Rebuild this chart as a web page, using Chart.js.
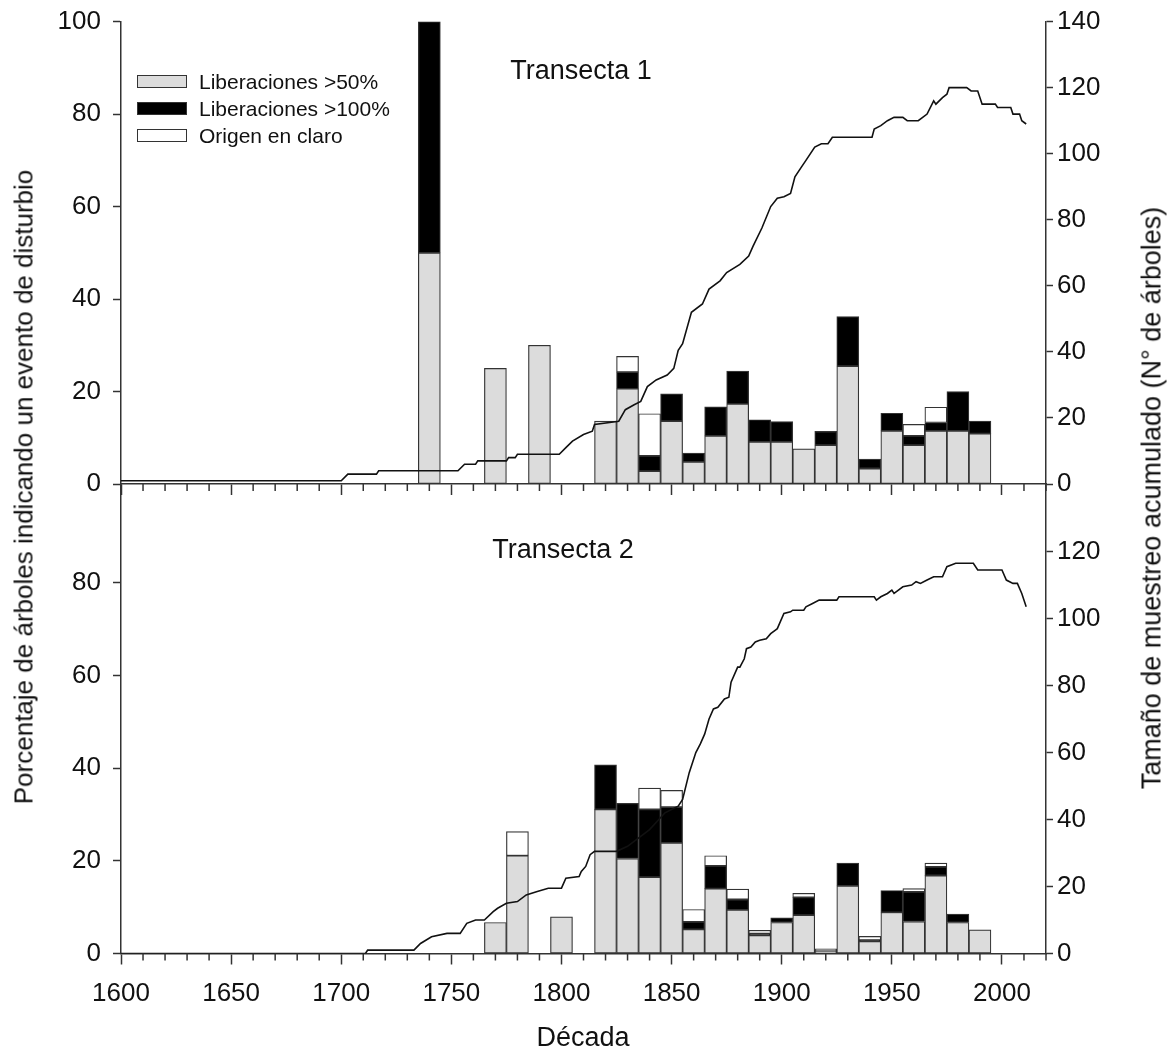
<!DOCTYPE html>
<html lang="es">
<head>
<meta charset="utf-8">
<title>Transectas</title>
<script src="https://cdn.jsdelivr.net/npm/chart.js@4.4.1/dist/chart.umd.min.js"></script>
<style>
  body { margin: 0; background: #fff; font-family: "Liberation Sans", Arial, sans-serif; color: #111; }
  #wrap { position: relative; width: 1175px; height: 1052px; overflow: hidden; }
  canvas { position: absolute; left: 0; }
  .txt { position: absolute; white-space: nowrap; transform: translate(-50%, -50%); }
  .rot { transform: translate(-50%, -50%) rotate(-90deg); }
  #leyenda { position: absolute; left: 137px; top: 68px; }
  .fila { display: flex; align-items: center; height: 27px; font-size: 21px; }
  .caja { width: 48px; height: 11px; border: 1.3px solid #333; margin-right: 12px; }
</style>
</head>
<body>
<div id="wrap">
  <!-- las etiquetas de los ejes y ocupan ~27.6px arriba y abajo del area de datos -->
  <canvas id="graf1" width="1175" height="518" style="top:-6px"></canvas>
  <canvas id="graf2" width="1175" height="595" style="top:457px"></canvas>
  <div class="txt" style="left:581px;top:70px;font-size:27px">Transecta 1</div>
  <div class="txt" style="left:563px;top:549px;font-size:27px">Transecta 2</div>
  <div class="txt rot" style="left:24px;top:487px;font-size:26px">Porcentaje de árboles indicando un evento de disturbio</div>
  <div class="txt rot" style="left:1152px;top:498px;font-size:27px">Tamaño de muestreo acumulado (N° de árboles)</div>
  <div class="txt" style="left:583px;top:1037px;font-size:27px">Década</div>
  <div id="leyenda"></div>
</div>
<script>
// etiquetas de la leyenda
const series = ['Liberaciones >50%', 'Liberaciones >100%', 'Origen en claro'];

// Transecta 1: porcentaje de árboles por década
const decadasT1 = [1740, 1770, 1790, 1820, 1830, 1840, 1850, 1860, 1870, 1880, 1890, 1900, 1910, 1920, 1930, 1940, 1950, 1960, 1970, 1980, 1990];
const lib50T1  = [50, 25, 30, 13.6, 20.6, 2.8, 13.6, 4.8, 10.4, 17.3, 9.1, 9.1, 7.6, 8.4, 25.5, 3.3, 11.5, 8.4, 11.5, 11.5, 10.9];
const lib100T1 = [50, 0, 0, 0, 3.6, 3.3, 5.9, 1.9, 6.3, 7.1, 4.8, 4.4, 0, 3.0, 10.7, 2.1, 3.8, 2.0, 1.8, 8.5, 2.7];
const claroT1  = [0, 0, 0, 0, 3.4, 9.1, 0, 0, 0, 0, 0, 0, 0, 0, 0, 0, 0, 2.5, 3.3, 0, 0];

// Transecta 2
const decadasT2 = [1770, 1780, 1800, 1820, 1830, 1840, 1850, 1860, 1870, 1880, 1890, 1900, 1910, 1920, 1930, 1940, 1950, 1960, 1970, 1980, 1990];
const lib50T2  = [6.7, 21.1, 7.9, 31.1, 20.5, 16.5, 23.9, 5.2, 14.0, 9.4, 3.9, 6.7, 8.3, 0.5, 14.6, 2.6, 8.9, 6.9, 16.8, 6.7, 5.1];
const lib100T2 = [0, 0, 0, 9.6, 11.9, 14.6, 7.7, 1.6, 4.9, 2.3, 0.4, 1.0, 3.8, 0, 4.9, 0.3, 4.7, 6.4, 1.9, 1.8, 0];
const claroT2  = [0, 5.2, 0, 0, 0, 4.6, 3.6, 2.7, 2.2, 2.2, 0.7, 0, 0.9, 0.5, 0, 0.8, 0, 0.7, 0.8, 0, 0];

// tamaño de muestreo acumulado (eje derecho)
const anosT1 = [1600, 1700, 1703, 1716, 1717, 1753, 1756, 1761, 1762, 1775, 1776, 1779, 1780, 1799, 1802, 1805, 1810, 1814, 1815, 1826, 1829, 1833, 1836, 1839, 1843, 1848, 1851, 1853, 1855, 1859, 1864, 1867, 1872, 1875, 1881, 1885, 1887, 1891, 1895, 1898, 1901, 1904, 1906, 1909, 1911, 1915, 1918, 1921, 1923, 1941, 1942, 1945, 1948, 1951, 1955, 1957, 1962, 1964, 1966, 1969, 1970, 1973, 1975, 1976, 1984, 1986, 1989, 1991, 1997, 1998, 2004, 2005, 2008, 2009, 2011];
const arbT1  = [1, 1, 3, 3, 4, 4, 6, 6, 7, 7, 8, 8, 9, 9, 11, 13, 15, 16, 18, 19, 22.5, 24, 25, 29.5, 31.5, 33, 35, 40.5, 42.5, 52, 54.5, 59, 61.5, 64, 66.5, 69, 72, 77.5, 84, 86.5, 87, 88, 93, 96, 98, 102, 103, 103, 105, 105, 107.5, 108.5, 110, 111, 111, 110, 110, 111, 112, 116, 115, 117, 118, 120, 120, 119, 119, 115, 115, 114, 114, 112, 112, 110, 109];

const anosT2 = [1600, 1711, 1712, 1733, 1736, 1741, 1748, 1754, 1757, 1761, 1765, 1769, 1771, 1775, 1780, 1784, 1789, 1794, 1800, 1802, 1808, 1809, 1811, 1813, 1815, 1825, 1830, 1840, 1847, 1853, 1855, 1858, 1861, 1863, 1865, 1867, 1869, 1871, 1874, 1876, 1877, 1880, 1881, 1883, 1884, 1886, 1888, 1890, 1893, 1895, 1897, 1898, 1901, 1904, 1905, 1910, 1911, 1914, 1917, 1925, 1926, 1942, 1943, 1945, 1948, 1950, 1951, 1953, 1955, 1959, 1961, 1963, 1966, 1969, 1973, 1975, 1979, 1987, 1989, 2000, 2002, 2005, 2007, 2009, 2011];
const arbT2  = [0, 0, 1, 1, 3, 5, 6, 6, 9, 10, 10, 12.5, 13.5, 15, 15.5, 17.5, 18.5, 19.5, 19.5, 22.5, 23, 24.5, 26, 29.5, 30.5, 30.5, 32, 37, 42, 44, 46, 54, 60, 62.5, 65.5, 70, 73, 73.5, 76, 76.5, 81, 85.5, 85.5, 88, 91, 91.5, 93, 93.5, 94, 95.5, 96.5, 97, 101.5, 102, 102.5, 102.5, 103.5, 104.5, 105.5, 105.5, 106.5, 106.5, 105.5, 106.5, 107.5, 108.5, 107.5, 108.5, 109.5, 110, 111, 110.5, 111.5, 112.5, 112.5, 115.5, 116.5, 116.5, 114.5, 114.5, 111.5, 110.5, 110.5, 107.5, 103.5];

// rangos de los ejes (el panel de abajo llega un poco mas arriba de 100)
const maxIzqT1 = 100, maxIzqT2 = 101.2, maxDer = 140;

const GRIS = '#dcdcdc', BORDE = '#333';
const colores = [GRIS, '#000', '#fff'];
const fuente = { family: '"Liberation Sans", Arial, sans-serif', size: 26 };

// leyenda en html
document.getElementById('leyenda').innerHTML = series.map((s, i) =>
  '<div class="fila"><span class="caja" style="background:' + colores[i] + '"></span>' + s + '</div>').join('');

// ticks menores del eje x (cada 10 años), mas cortos que los de 50
const ticksMenores = {
  id: 'ticksMenores',
  afterDraw(chart) {
    const s = chart.scales.x, c = chart.ctx;
    c.save();
    c.strokeStyle = BORDE;
    c.lineWidth = 1.5;
    s.ticks.forEach(t => {
      if (t.value % 50 === 0) return;
      const px = s.getPixelForValue(t.value);
      c.beginPath();
      c.moveTo(px, s.top);
      c.lineTo(px, s.top + 7);
      c.stroke();
    });
    c.restore();
  }
};

function datos(decadas, g, b, w, anos, arb) {
  // solo las decadas con valor > 0
  const barra = (i, vals) => ({
    type: 'bar', label: series[i], order: 1, yAxisID: 'y',
    data: decadas.map((d, k) => ({ x: d, y: vals[k] })).filter(p => p.y > 0),
    backgroundColor: colores[i], borderColor: BORDE, borderWidth: 1.2, borderSkipped: false,
    barPercentage: 1, categoryPercentage: 1
  });
  return [
    { type: 'line', label: 'N', order: 0, yAxisID: 'yDer',
      data: anos.map((a, k) => ({ x: a, y: arb[k] })),
      borderColor: '#111', borderWidth: 1.6, pointRadius: 0, tension: 0, fill: false },
    barra(0, g), barra(1, b), barra(2, w)
  ];
}

function opciones(arriba) {
  const eje = { color: BORDE, width: 1.5 };
  const oculto = 'rgba(0,0,0,0)';
  const tapaIzq = v => !arriba && v >= 100;
  const tapaDer = v => !arriba && v >= maxDer;
  return {
    responsive: false,
    animation: false,
    layout: { padding: 0 },
    plugins: { legend: { display: false }, tooltip: { enabled: false } },
    scales: {
      x: {
        type: 'linear', min: 1600, max: 2020, offset: false, stacked: true,
        ticks: {
          display: !arriba, stepSize: 10, maxTicksLimit: 100, autoSkip: false, maxRotation: 0,
          padding: 14, font: fuente, color: '#111',
          callback: v => v % 50 === 0 ? String(v) : ''
        },
        grid: {
          drawOnChartArea: false, offset: false, tickLength: 11, tickWidth: 1.5,
          tickColor: ctx => (ctx.tick && ctx.tick.value % 50 === 0) ? BORDE : oculto
        },
        border: eje,
        afterFit: s => { s.height = arriba ? 28 : 98.5; }
      },
      y: {
        position: 'left', min: 0, max: arriba ? maxIzqT1 : maxIzqT2, stacked: true,
        ticks: { stepSize: 20, padding: 12, font: fuente, color: '#111',
          callback: v => tapaIzq(v) ? '' : String(v) },
        grid: { drawOnChartArea: false, tickLength: 8, tickWidth: 1.5,
          tickColor: ctx => (ctx.tick && tapaIzq(ctx.tick.value)) ? oculto : BORDE },
        border: eje,
        afterFit: s => { s.width = 121; }
      },
      yDer: {
        type: 'linear', position: 'right', min: 0, max: maxDer,
        ticks: { stepSize: 20, padding: 4, font: fuente, color: '#111',
          callback: v => tapaDer(v) ? '' : String(v) },
        grid: { drawOnChartArea: false, tickLength: 7, tickWidth: 1.5,
          tickColor: ctx => (ctx.tick && tapaDer(ctx.tick.value)) ? oculto : BORDE },
        border: eje,
        afterFit: s => { s.width = 129; }
      }
    }
  };
}

new Chart(document.getElementById('graf1'), {
  type: 'bar',
  data: { datasets: datos(decadasT1, lib50T1, lib100T1, claroT1, anosT1, arbT1) },
  options: opciones(true),
  plugins: [ticksMenores]
});

new Chart(document.getElementById('graf2'), {
  type: 'bar',
  data: { datasets: datos(decadasT2, lib50T2, lib100T2, claroT2, anosT2, arbT2) },
  options: opciones(false),
  plugins: [ticksMenores]
});
</script>
</body>
</html>
